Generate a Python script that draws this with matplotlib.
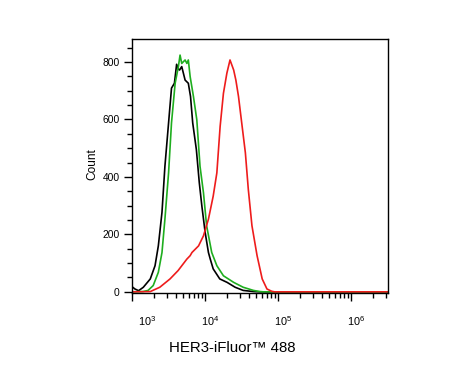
import matplotlib
matplotlib.use("Agg")
import matplotlib.pyplot as plt
import matplotlib.transforms as mtransforms
import numpy as np

plt.rcParams["font.family"] = ["Liberation Sans", "DejaVu Sans"]
plt.rcParams["mathtext.fontset"] = "custom"
plt.rcParams["mathtext.rm"] = "Liberation Sans"
plt.rcParams["mathtext.it"] = "Liberation Sans"

# histogram traces: log10(intensity) vs count
black_log = [3.00, 3.04, 3.09, 3.155, 3.25, 3.315, 3.36, 3.41, 3.45, 3.50, 3.54,
             3.58, 3.61, 3.635, 3.65, 3.68, 3.726, 3.77, 3.80, 3.83, 3.88, 3.92,
             3.955, 4.00, 4.045, 4.07, 4.11, 4.20, 4.30, 4.41, 4.52, 4.66, 4.75, 6.50]
black_cnt = [18, 10, 4, 16, 45, 91, 160, 277, 437, 588, 709,
             726, 792, 775, 772, 784, 737, 726, 680, 588, 495, 380,
             299, 207, 137, 114, 80, 45, 33, 16, 5, 1, 0, 0]

green_log = [3.00, 3.15, 3.22, 3.29, 3.36, 3.41, 3.45, 3.50, 3.54, 3.59, 3.634,
             3.657, 3.68, 3.726, 3.75, 3.77, 3.795, 3.84, 3.886, 3.93, 3.977,
             4.02, 4.09, 4.16, 4.25, 4.39, 4.52, 4.66, 4.75, 4.80, 6.50]
green_cnt = [0, 1, 5, 22, 68, 137, 253, 414, 588, 726, 784,
             824, 795, 807, 795, 807, 749, 680, 599, 437, 345,
             230, 137, 91, 56, 33, 16, 5, 1, 0, 0]

red_log = [3.00, 3.25, 3.38, 3.52, 3.63, 3.75, 3.795, 3.82, 3.91, 3.977, 4.045,
           4.11, 4.16, 4.205, 4.25, 4.297, 4.34, 4.39, 4.42, 4.456, 4.50, 4.55,
           4.59, 4.64, 4.71, 4.78, 4.845, 4.91, 4.95, 6.50]
red_cnt = [0, 1, 16, 45, 74, 114, 126, 137, 160, 195, 253,
           333, 414, 576, 691, 761, 807, 772, 737, 680, 588, 484,
           357, 230, 126, 45, 10, 2, 0, 0]

x_ticks = [1e3, 1e4, 1e5, 1e6]
x_labels = ["$10^{3}$", "$10^{4}$", "$10^{5}$", "$10^{6}$"]
y_ticks = [0, 200, 400, 600, 800]

fig = plt.figure(figsize=(4.76, 3.81), dpi=100)
ax = fig.add_axes([132 / 476, 88 / 381, 256 / 476, 254 / 381])

for lg, cnt, col in [(black_log, black_cnt, "black"),
                     (green_log, green_cnt, "#1fae1f"),
                     (red_log, red_cnt, "#ee1c1c")]:
    ax.plot(10 ** np.array(lg), cnt, color=col, lw=1.2)

ax.set_xscale("log")
ax.set_xlim(1e3, 10 ** 6.5)
ax.set_ylim(-4, 880)
ax.set_xticks(x_ticks)
ax.set_xticklabels(x_labels, fontsize=7.8)
ax.set_yticks(y_ticks)
ax.set_yticks(np.arange(0, 900, 50), minor=True)
ax.set_yticklabels([str(v) for v in y_ticks], fontsize=7.4)
ax.tick_params(axis="both", which="major", direction="out", length=6, width=1)
ax.tick_params(axis="both", which="minor", direction="out", length=3.5, width=1)
ax.tick_params(axis="x", pad=9)
ax.tick_params(axis="y", pad=3)

# shift x labels right like the original
for i, lab in enumerate(ax.get_xticklabels()):
    dx = 15 if i == 0 else 5
    lab.set_transform(lab.get_transform() +
                      mtransforms.ScaledTranslation(dx / 100, 0, fig.dpi_scale_trans))

for s in ax.spines.values():
    s.set_linewidth(1)

fig.text(92.5 / 476, 1 - 164 / 381, "Count", rotation=90, ha="center", va="center", fontsize=8.6)
fig.text(232 / 476, 1 - 348 / 381, "HER3-iFluor™ 488", ha="center", va="center", fontsize=10.8)

fig.savefig("out.png", dpi=100)
